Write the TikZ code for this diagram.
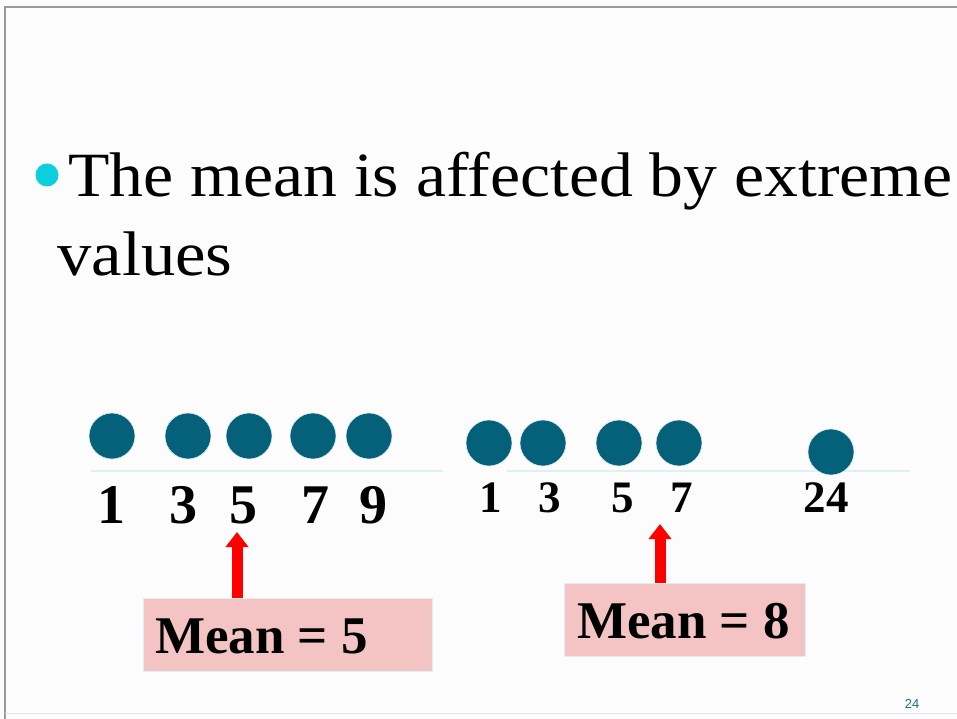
\documentclass[tikz,border=0pt]{standalone}
\usepackage{fontspec}
\setmainfont{Liberation Serif}
\setsansfont{Liberation Sans}
\usetikzlibrary{arrows.meta}
\definecolor{pagebg}{HTML}{FCFCFC}
\definecolor{framegray}{HTML}{9A9A9A}
\definecolor{dotteal}{HTML}{05617A}
\definecolor{bulletcyan}{HTML}{0BCFDC}
\definecolor{axiscyan}{HTML}{DDF1F5}
\definecolor{meanpink}{HTML}{F4C4C4}
\definecolor{pagenum}{HTML}{1F6E8C}
\begin{document}
\begin{tikzpicture}[x=1pt,y=-1pt,
  dot/.style={circle,fill=dotteal,draw=axiscyan,line width=0.6pt,minimum size=46pt,inner sep=0pt},
  headline/.style={anchor=base west,inner sep=0pt,font=\fontsize{63}{70}\selectfont},
  bignum/.style={anchor=base,inner sep=0pt,font=\fontsize{56}{60}\selectfont\bfseries},
  smallnum/.style={anchor=base,inner sep=0pt,font=\fontsize{45}{50}\selectfont\bfseries},
  axis/.style={draw=axiscyan,line width=1.2pt},
  meanbox/.style={fill=meanpink,draw=axiscyan,line width=0.8pt,inner sep=0pt},
  meantext/.style={anchor=base west,inner sep=0pt,font=\fontsize{53}{58}\selectfont\bfseries},
  uparrow/.style={-{Triangle[width=22pt,length=15pt]},draw=red,line width=11pt}]
\useasboundingbox (0,0) rectangle (957,719);
\fill[pagebg] (0,0) rectangle (957,719);
% slide frame
\draw[framegray,line width=1.5pt] (5,719) -- (5,7) -- (957,7);
\draw[gray!20,line width=0.8pt] (5,713) -- (957,713);

% heading
\fill[bulletcyan] (47,175) circle (11.5);
\node[headline] (title) at (68,197) {\scalebox{1.075}[1]{The mean is affected by extreme}};
\node[headline] (title2) at (57,275) {\scalebox{1.09}[1]{values}};

% first data set
\draw[axis] (91,471) -- (443,471);
\node[dot] (a1) at (112,436) {};
\node[dot] (a3) at (188,436) {};
\node[dot] (a5) at (249,436) {};
\node[dot] (a7) at (313,436) {};
\node[dot] (a9) at (369,436) {};
\node[bignum] (n1) at (111,523) {1};
\node[bignum] (n3) at (183,523) {3};
\node[bignum] (n5) at (243,523) {5};
\node[bignum] (n7) at (315,523) {7};
\node[bignum] (n9) at (373,523) {9};

% second data set
\draw[axis] (507,471) -- (910,471);
\node[dot] (b1) at (489,443) {};
\node[dot] (b3) at (543,443) {};
\node[dot] (b5) at (619,443) {};
\node[dot] (b7) at (679,443) {};
\node[dot] (b24) at (831,452) {};
\node[smallnum] (m1) at (491,512) {1};
\node[smallnum] (m3) at (550,512) {3};
\node[smallnum] (m5) at (623,512) {5};
\node[smallnum] (m7) at (682,512) {7};
\node[smallnum] (m24) at (826,512) {24};

% mean boxes
\node[meanbox,minimum width=289pt,minimum height=73pt] (box5) at (287.5,634.5) {};
\node[meantext] (t5) at (155,653) {Mean = 5};
\node[meanbox,minimum width=241pt,minimum height=73pt] (box8) at (684.5,619.5) {};
\node[meantext] (t8) at (577,638) {Mean = 8};

% arrows pointing at the means
\coordinate (tip5) at (237,532);
\coordinate (tip8) at (660,524);
\draw[uparrow] (box5.north -| tip5) -- (tip5);
\draw[uparrow] (box8.north -| tip8) -- (tip8);

% page number
\node[anchor=base,inner sep=0pt,text=pagenum,font=\sffamily\fontsize{13}{15}\selectfont] (pg) at (912,708) {24};
\end{tikzpicture}
\end{document}
